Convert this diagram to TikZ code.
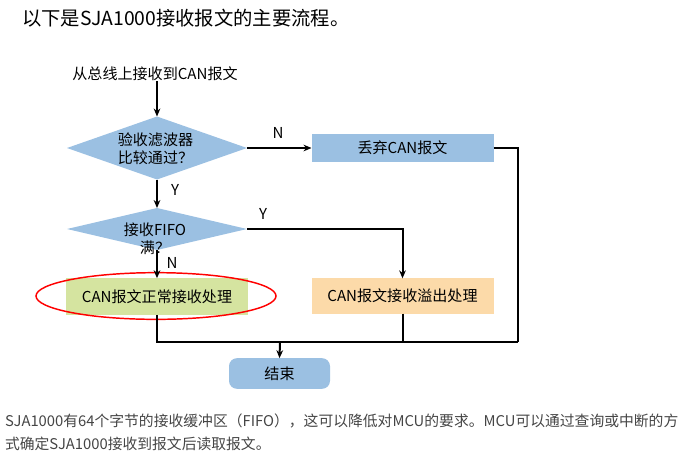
\documentclass[tikz,border=0pt]{standalone}
\usepackage{fontspec}
\setmainfont{Noto Sans CJK SC}
\usetikzlibrary{shapes.geometric,arrows.meta}
\definecolor{flowblue}{HTML}{9BC0E2}
\definecolor{flowgreen}{HTML}{D5E4A0}
\definecolor{floworange}{HTML}{FCDAA9}
\definecolor{bodygrey}{HTML}{454545}
\begin{document}
\begin{tikzpicture}[x=0.75pt,y=-0.75pt,
  every node/.style={inner sep=0pt, outer sep=0pt},
  txt/.style={font=\fontsize{11.3}{13.5}\selectfont, text=black},
  conn/.style={line width=1.5pt, black},
  arr/.style={conn, -{Stealth[length=6pt,width=5pt,inset=2pt]}},
  dia/.style={diamond, fill=flowblue, minimum width=135pt, inner sep=0pt},
  procbox/.style={rectangle, minimum width=136.5pt, txt},
  lbl/.style={txt}
]
\useasboundingbox (0,0) rectangle (684,461);

% title
\node[font=\fontsize{14.5}{16}\selectfont, anchor=west] (title) at (22,18) {以下是SJA1000接收报文的主要流程。};

% start
\node[txt] (start) at (155,74) {从总线上接收到CAN报文};

% decision 1
\node[dia, minimum height=47.25pt] (d1) at (157,148) {};
\node[txt, align=left] (d1t) at (155.5,149) {验收滤波器\\比较通过？};

% discard
\node[procbox, fill=flowblue, minimum height=21pt] (discard) at (402.5,147.5) {丢弃CAN报文};

% decision 2
\node[dia, minimum height=31.5pt] (d2) at (157,229) {};
\node[txt, align=center] (d2t) at (155,239) {接收FIFO\\满？};

% normal / overflow
\node[procbox, fill=flowgreen, minimum height=27.5pt] (normal) at (157,296.5) {CAN报文正常接收处理};
\node[procbox, fill=floworange, minimum height=26.5pt] (ovf) at (402.5,296) {CAN报文接收溢出处理};
\node[ellipse, draw=red, line width=1.1pt, minimum width=180pt, minimum height=35pt] (oval) at (156,296) {};

% end
\node[txt, rectangle, rounded corners=6pt, fill=flowblue, minimum width=75.75pt, minimum height=23pt] (endn) at (279.5,373.5) {结束};

% connectors
\coordinate (rj) at (517.5,341.5);
\coordinate (jn) at (280,341.5);
\draw[arr] (start.south -| d1.north) -- (d1.north);
\draw[arr] (d1.east) -- (d1.east -| discard.west);
\draw[arr] (d1.south) -- (d2.north);
\draw[arr] (d2.east) -| (ovf.north);
\draw[arr] (d2.south) -- (normal.north);
\draw[conn] (discard.east) -| (rj);
\draw[conn] (normal.south) |- (rj);
\draw[conn] (ovf.south) -- (ovf.south |- rj);
\draw[arr] (jn) -- (endn.north);

% branch labels
\node[lbl] (n1) at (278,133) {N};
\node[lbl] (y1) at (175,190) {Y};
\node[lbl] (y2) at (263,214) {Y};
\node[lbl] (n2) at (172,263) {N};

% body text
\node[anchor=west, font=\fontsize{11.1}{13}\selectfont, text=bodygrey] (body1) at (5,421) {SJA1000有64个字节的接收缓冲区（FIFO），这可以降低对MCU的要求。MCU可以通过查询或中断的方};
\node[anchor=west, font=\fontsize{11.1}{13}\selectfont, text=bodygrey] (body2) at (5,444) {式确定SJA1000接收到报文后读取报文。};
\end{tikzpicture}
\end{document}
